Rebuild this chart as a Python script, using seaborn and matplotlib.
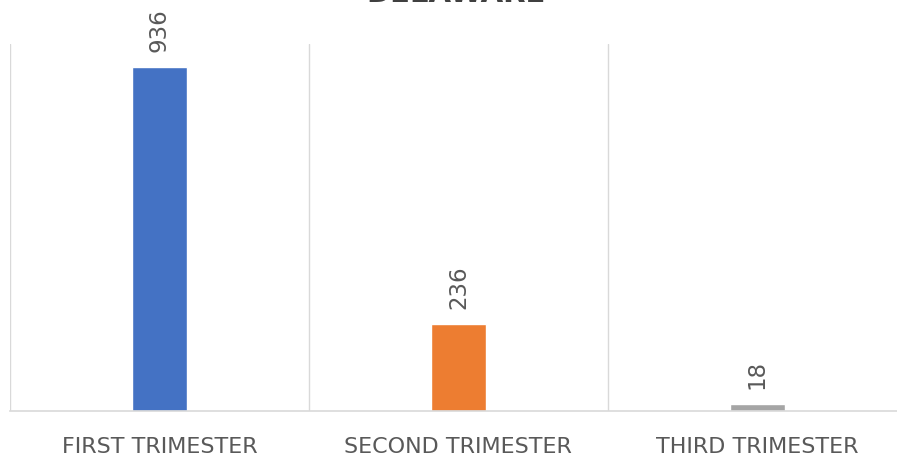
import matplotlib
matplotlib.use("Agg")
import matplotlib.pyplot as plt
import seaborn as sns
import pandas as pd

categories = ["FIRST TRIMESTER", "SECOND TRIMESTER", "THIRD TRIMESTER"]
values = [936, 236, 18]
colors = ["#4472C4", "#ED7D31", "#A5A5A5"]
title = "DELAWARE"

sns.set_theme(style="white")
plt.rcParams['font.family'] = ['DejaVu Sans']

df = pd.DataFrame({"cat": categories, "val": values})

fig = plt.figure(figsize=(8.97, 4.6), dpi=100)
ax = fig.add_axes([10/897, 1 - 412/460, 887/897, (412-45)/460])

sns.barplot(data=df, x="cat", y="val", hue="cat", palette=colors, width=0.184,
            legend=False, ax=ax, saturation=1)

ax.set_xlim(-0.5, 2.467)
ax.set_ylim(0, 1000)
for b in [-0.5, 0.5, 1.5]:
    ax.axvline(b, color="#D9D9D9", lw=1, zorder=0)
for s in ["top", "right", "left"]:
    ax.spines[s].set_visible(False)
ax.spines["bottom"].set_color("#D9D9D9")
ax.spines["bottom"].set_linewidth(1.2)
ax.set_yticks([])
ax.set_xlabel("")
ax.set_ylabel("")
ax.tick_params(axis="x", length=0, pad=18, labelsize=16, labelcolor="#595959")

for i, v in enumerate(values):
    ax.annotate(str(v), (i, v), xytext=(0, 12), textcoords="offset points",
                rotation=90, ha="center", va="bottom", fontsize=16.5, color="#595959")

fig.text(456/897, 1 - 2/460, title, ha="center", va="baseline", fontsize=21,
         fontweight="bold", color="#404040")

fig.savefig("out.png", dpi=100)
